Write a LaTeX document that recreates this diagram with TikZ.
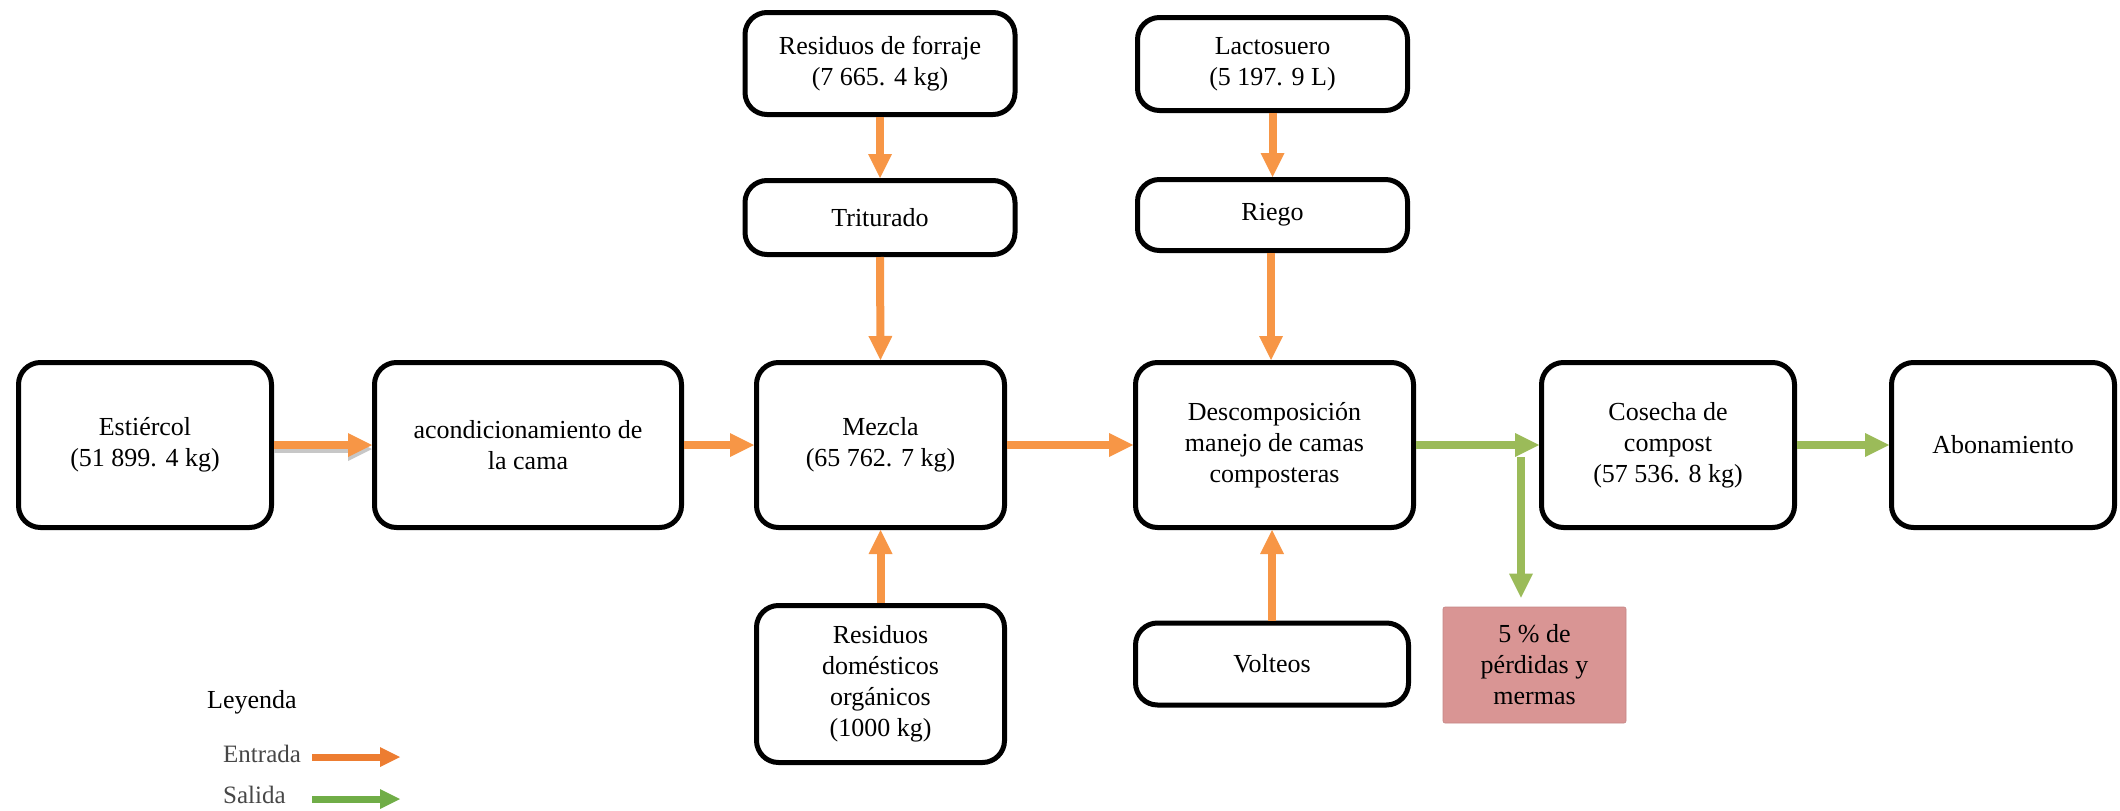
\documentclass[tikz,border=0pt]{standalone}
\usepackage{fontspec}
\setmainfont{Liberation Serif}
\usetikzlibrary{arrows.meta,calc}
\definecolor{inorange}{HTML}{F79646}
\definecolor{outgreen}{HTML}{9BBB59}
\definecolor{losspink}{HTML}{D99594}
\definecolor{legorange}{HTML}{ED7D31}
\definecolor{leggreen}{HTML}{70AD47}
\begin{document}
\begin{tikzpicture}[x=1pt,y=-1pt,
  box/.style={draw=black, line width=5pt, rounded corners=22pt, fill=white,
    align=center, font=\fontsize{26}{31}\selectfont, inner sep=0pt},
  lossbox/.style={fill=losspink, draw=losspink!90!black, line width=0.6pt, rounded corners=2pt,
    align=center, font=\fontsize{26}{31}\selectfont, inner sep=0pt},
  inarrow/.style={draw=inorange, line width=8pt, -{Triangle[length=24pt,width=24pt,line width=0pt]}},
  outarrow/.style={draw=outgreen, line width=8pt, -{Triangle[length=24pt,width=24pt,line width=0pt]}},
  legin/.style={draw=legorange, line width=7pt, -{Triangle[length=20pt,width=20pt,line width=0pt]}},
  legout/.style={draw=leggreen, line width=7pt, -{Triangle[length=20pt,width=20pt,line width=0pt]}},
  legtitle/.style={anchor=base west, font=\fontsize{26}{31}\selectfont, inner sep=0pt},
  legitem/.style={anchor=base west, font=\fontsize{25}{30}\selectfont, text=black!72, inner sep=0pt},
  shadowed/.style={preaction={draw=black!22, line width=8pt, transform canvas={yshift=-4pt}}}
]
\useasboundingbox (0,0) rectangle (2120,811);

% main row
\node[box, minimum width=253pt, minimum height=165pt] (est) at (145,445) {Estiércol\\(51 899. 4 kg)};
\node[box, minimum width=307pt, minimum height=165pt] (acond) at (528,445) {acondicionamiento de\\la cama};
\node[box, minimum width=248pt, minimum height=165pt] (mez) at (880.5,445) {Mezcla\\(65 762. 7 kg)};
\node[box, minimum width=278pt, minimum height=165pt] (desc) at (1274.5,445) {Descomposición\\manejo de camas\\composteras};
\node[box, minimum width=253pt, minimum height=165pt] (cos) at (1668,445) {Cosecha de\\compost\\(57 536. 8 kg)};
\node[box, minimum width=223pt, minimum height=165pt] (abon) at (2003,445) {Abonamiento};

% top column left
\node[box, minimum width=270pt, minimum height=102pt] (forr) at (880,63.5) {Residuos de forraje\\(7 665. 4 kg)};
\node[box, minimum width=270pt, minimum height=74pt] (trit) at (880,217.5) {Triturado};
% top column right
\node[box, minimum width=270pt, minimum height=93pt] (lacto) at (1272.5,64) {Lactosuero\\(5 197. 9 L)};
\node[box, minimum width=270pt, minimum height=71pt] (riego) at (1272.5,215) {Riego};

% bottom
\node[box, minimum width=248pt, minimum height=157pt] (resdom) at (880.5,684) {Residuos\\domésticos\\orgánicos\\(1000 kg)};
\node[box, minimum width=273pt, minimum height=82pt] (volt) at (1272,664) {Volteos};
\node[lossbox, minimum width=183pt, minimum height=116pt] (loss) at (1534.5,665) {5 \% de\\pérdidas y\\mermas};

% input arrows
\draw[inarrow, shadowed] (est.east) -- (acond.west);
\draw[inarrow] (acond.east) -- (mez.west);
\draw[inarrow] (mez.east) -- (desc.west);
\draw[inarrow] (forr.south) -- (trit.north);
\draw[inarrow] (trit.south) -- (mez.north);
\draw[inarrow] (resdom.north) -- (mez.south);
\draw[inarrow] (lacto.south) -- (riego.north);
\draw[inarrow] ([xshift=-1.5pt]riego.south) -- ([xshift=-1.5pt]riego.south |- desc.north);
\draw[inarrow] (volt.north) -- (volt.north |- desc.south);

% output arrows
\draw[outarrow] (desc.east) -- (cos.west);
\draw[outarrow] (cos.east) -- (abon.west);
\coordinate (split) at (1521,457);
\draw[outarrow, shorten >=9pt] (split) -- (split |- loss.north);

% legend
\node[legtitle] (ley) at (207,708) {Leyenda};
\node[legitem] (ent) at (223,762) {Entrada};
\node[legitem] (sal) at (223,803) {Salida};
\coordinate (entA) at (312,757);
\coordinate (entB) at (400,757);
\coordinate (salA) at (312,799);
\coordinate (salB) at (400,799);
\draw[legin] (entA) -- (entB);
\draw[legout] (salA) -- (salB);
\end{tikzpicture}
\end{document}
